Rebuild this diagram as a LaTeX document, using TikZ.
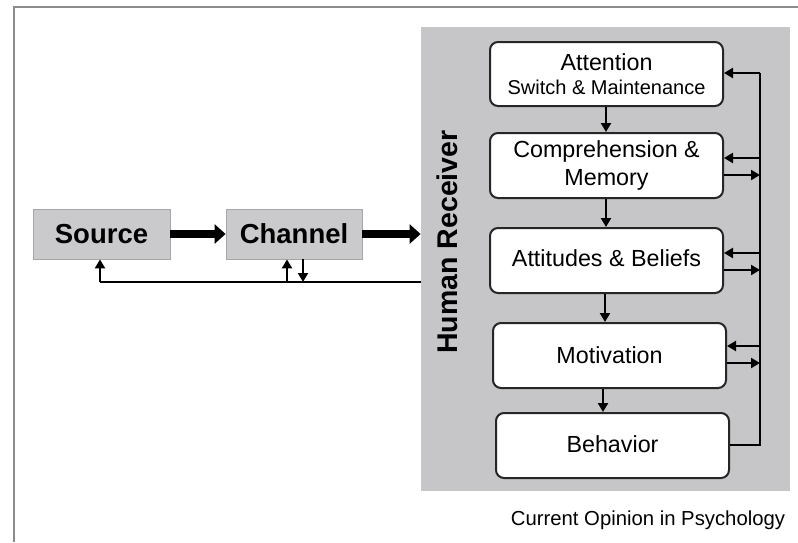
\documentclass[tikz,border=0pt]{standalone}
\usepackage{fontspec}
\setmainfont{Liberation Sans}
\usetikzlibrary{arrows.meta}
\definecolor{boxgray}{HTML}{CACACC}
\definecolor{panelgray}{HTML}{C6C6C8}
\definecolor{framegray}{HTML}{8C8C8C}
\tikzset{
  graybox/.style={draw=gray!70, line width=0.8pt, fill=boxgray, minimum width=136pt, minimum height=50pt, inner sep=0pt,
    font=\fontsize{27.5}{30}\selectfont\bfseries},
  stagebox/.style={draw=black!85, line width=2pt, fill=white, rounded corners=8pt, minimum width=233pt, minimum height=65pt,
    inner sep=0pt, align=center, font=\fontsize{23.3}{27}\selectfont},
  bigarrow/.style={line width=8.5pt, -{Triangle[length=11pt,width=19pt]}},
  conn/.style={line width=2.8pt, -{Triangle[length=9pt,width=10pt]}},
  plain/.style={line width=2.8pt},
}
\begin{document}
\begin{tikzpicture}[x=1pt,y=-1pt]
\useasboundingbox (0,0) rectangle (798,542);
% outer frame
\draw[framegray, line width=1.6pt] (14,542) -- (14,7) -- (798,7);
% panel
\node[fill=panelgray, draw=gray!45, line width=0.8pt, minimum width=368pt, minimum height=463pt, inner sep=0pt] (panel) at (605,258.5) {};
\node[rotate=90, font=\fontsize{28.5}{30}\selectfont\bfseries] (hr) at (447,242) {Human Receiver};
% source & channel
\node[graybox, minimum width=137pt] (source) at (101.5,234) {Source};
\node[graybox] (channel) at (294,234) {Channel};
% stages
\node[stagebox, minimum height=64pt] (att) at (606.5,74) {Attention\\[-3pt]{\fontsize{20}{22}\selectfont Switch \& Maintenance}};
\node[stagebox] (comp) at (606.5,165.5) {\raisebox{-3pt}{\shortstack{Comprehension \&\\[4pt]Memory}}};
\node[stagebox] (attb) at (606.5,260.5) {\raisebox{5pt}{Attitudes \& Beliefs}};
\node[stagebox] (mot) at (609.5,355.5) {Motivation};
\node[stagebox] (beh) at (612.5,445.5) {\raisebox{3pt}{Behavior}};
% caption
\node[font=\fontsize{20.3}{22}\selectfont] (cap) at (648,520) {Current Opinion in Psychology};
% thick arrows
\draw[bigarrow] (source.east) -- (channel.west);
\draw[bigarrow] (channel.east) -- (channel.east -| panel.west);
% feedback bottom line
\coordinate (fbR) at (421,282);
\coordinate (fbL) at (100,282);
\draw[plain] (fbR) -- (fbL);
\draw[conn] (fbL) -- (source.south -| fbL);
\coordinate (chUp) at (287,282);
\coordinate (chDn) at (303,282);
\draw[conn] (chUp) -- (channel.south -| chUp);
\draw[conn] (channel.south -| chDn) -- (chDn);
% downward arrows between stages
\draw[conn] (att.south -| 606,0) -- (comp.north -| 606,0);
\draw[conn] (comp.south -| 606,0) -- (attb.north -| 606,0);
\draw[conn] (attb.south -| 605,0) -- (mot.north -| 605,0);
\draw[conn] (mot.south -| 603,0) -- (beh.north -| 603,0);
% right feedback bus
\coordinate (busT) at (760,73);
\coordinate (busB) at (760,445);
\draw[plain] (beh.east |- busB) -- (busB) -- (busT);
\draw[conn] (busT) -- (att.east |- busT);
\coordinate (c1) at (760,158);
\coordinate (c2) at (760,175);
\draw[conn] (c1) -- (comp.east |- c1);
\draw[conn] (comp.east |- c2) -- (c2);
\coordinate (a1) at (760,253);
\coordinate (a2) at (760,270);
\draw[conn] (a1) -- (attb.east |- a1);
\draw[conn] (attb.east |- a2) -- (a2);
\coordinate (m1) at (760,346);
\coordinate (m2) at (760,363);
\draw[conn] (m1) -- (mot.east |- m1);
\draw[conn] (mot.east |- m2) -- (m2);
\end{tikzpicture}
\end{document}
